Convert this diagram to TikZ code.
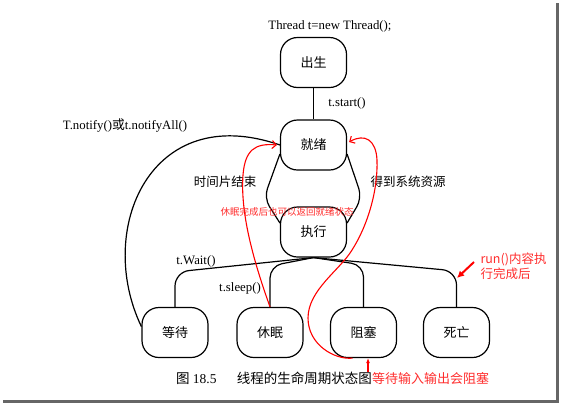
\documentclass[tikz,border=0pt]{standalone}
\usepackage{fontspec}
\setmainfont{Liberation Serif}
\newfontfamily\cjk{Noto Sans CJK SC}
\usetikzlibrary{arrows.meta}
\definecolor{notered}{RGB}{255,45,45}

\begin{document}
\begin{tikzpicture}[x=1pt,y=-1pt,
	state/.style={draw, line width=1.2pt, rounded corners=17pt, minimum width=66pt, minimum height=50pt, font={\cjk\fontsize{13}{15}\selectfont}},
	lbl/.style={font={\fontsize{12.8}{14}\selectfont}},
	cjklbl/.style={font={\cjk\fontsize{12.5}{15}\selectfont}},
	link/.style={line width=1.2pt},
	redline/.style={draw=red, line width=1.1pt},
	redtxt/.style={text=notered, font={\cjk\fontsize{9.5}{11}\selectfont}}]
		\useasboundingbox (0,0) rectangle (561,405);
		% window shadow
		\fill [black!60] (556,3) rectangle (559,403);
		\fill [black!60] (3,400) rectangle (559,403);
		% states
		\node [lbl] (newcall) at (330,26) {Thread t=new Thread();};
		\node [state] (born) at (313.5,62.5) {出生};
		\node [state] (ready) at (313.5,145) {就绪};
		\node [state] (exec) at (313.5,232) {执行};
		\node [state] (wait) at (175,332.5) {等待};
		\node [state] (sleep) at (270,332.5) {休眠};
		\node [state] (block) at (363.5,332.5) {阻塞};
		\node [state] (dead) at (456.5,332.5) {死亡};
		% labels
		\node [lbl] (startlbl) at (347,103) {t.start()};
		\node [lbl] (notifylbl) at (125,126) {T.notify(){\cjk 或}t.notifyAll()};
		\node [cjklbl] (slicelbl) at (225,182) {时间片结束};
		\node [cjklbl] (reslbl) at (408,182) {得到系统资源};
		\node [lbl] (waitlbl) at (196,261) {t.Wait()};
		\node [lbl] (sleeplbl) at (240,288) {t.sleep()};
		% connectors
		\draw [link] (born) -- (ready);
		\draw [link, rounded corners=10pt] (ready.195) -- (264,198) -- (exec.165);
		\draw [link, rounded corners=10pt] (ready.-15) -- (362,198) -- (exec.15);
		\draw [link, rounded corners=14pt] (exec.south) -- (175,272) -- (wait.north);
		\draw [link, rounded corners=12pt] (exec.south) -- (270,266) -- (sleep.north);
		\draw [link, rounded corners=12pt] (exec.south) -- (363.5,265) -- (block.north);
		\draw [link, rounded corners=14pt] (exec.south) -- (456.5,271) -- (dead.north);
		\draw [link] (wait.170) .. controls (95,230) and (150,100) .. (ready.west);
		% red notes
		\draw [redline, -{Straight Barb[length=4pt,width=8pt]}] (sleep.north) .. controls (255,265) and (240,215) .. (243,175) .. controls (245,150) and (255,143) .. ([xshift=-3pt]ready.west);
		\draw [redline, -{Straight Barb[length=4pt,width=8pt]}] ([xshift=-11pt]block.south) .. controls (335,360) and (308,345) .. (308,318) .. controls (308,290) and (340,270) .. (352,250) .. controls (368,225) and (378,190) .. (377,160) .. controls (376,140) and (365,133) .. ([xshift=2pt,yshift=3pt]ready.east);
		\node [redtxt] (backnote) at (287,212) {休眠完成后也可以返回就绪状态};
		\node [redtxt, font={\cjk\fontsize{12.5}{15}\selectfont}, align=left, anchor=west] (runnote) at (477,266) {run()内容执\\行完成后};
		\coordinate (runtail) at (474,262);
		\coordinate (runtip) at (457,278);
		\draw [draw=red, line width=2pt, -{Latex[length=7pt,width=7pt]}] (runtail) -- (runtip);
		\coordinate (iotail) at (368,372);
		\draw [redline, -{Latex[length=5pt,width=4pt]}] (iotail) -- (iotail |- block.south);
		% caption
		\node [font={\fontsize{13.5}{15}\selectfont}, anchor=east, inner sep=0pt] (caption) at (372,378) {{\cjk 图} 18.5\hspace{1.5em}{\cjk 线程的生命周期状态图}};
		\node [text=notered, font={\cjk\fontsize{13}{15}\selectfont}, anchor=west, inner sep=0pt] (capnote) at (caption.east) {等待输入输出会阻塞};
\end{tikzpicture}
\end{document}
